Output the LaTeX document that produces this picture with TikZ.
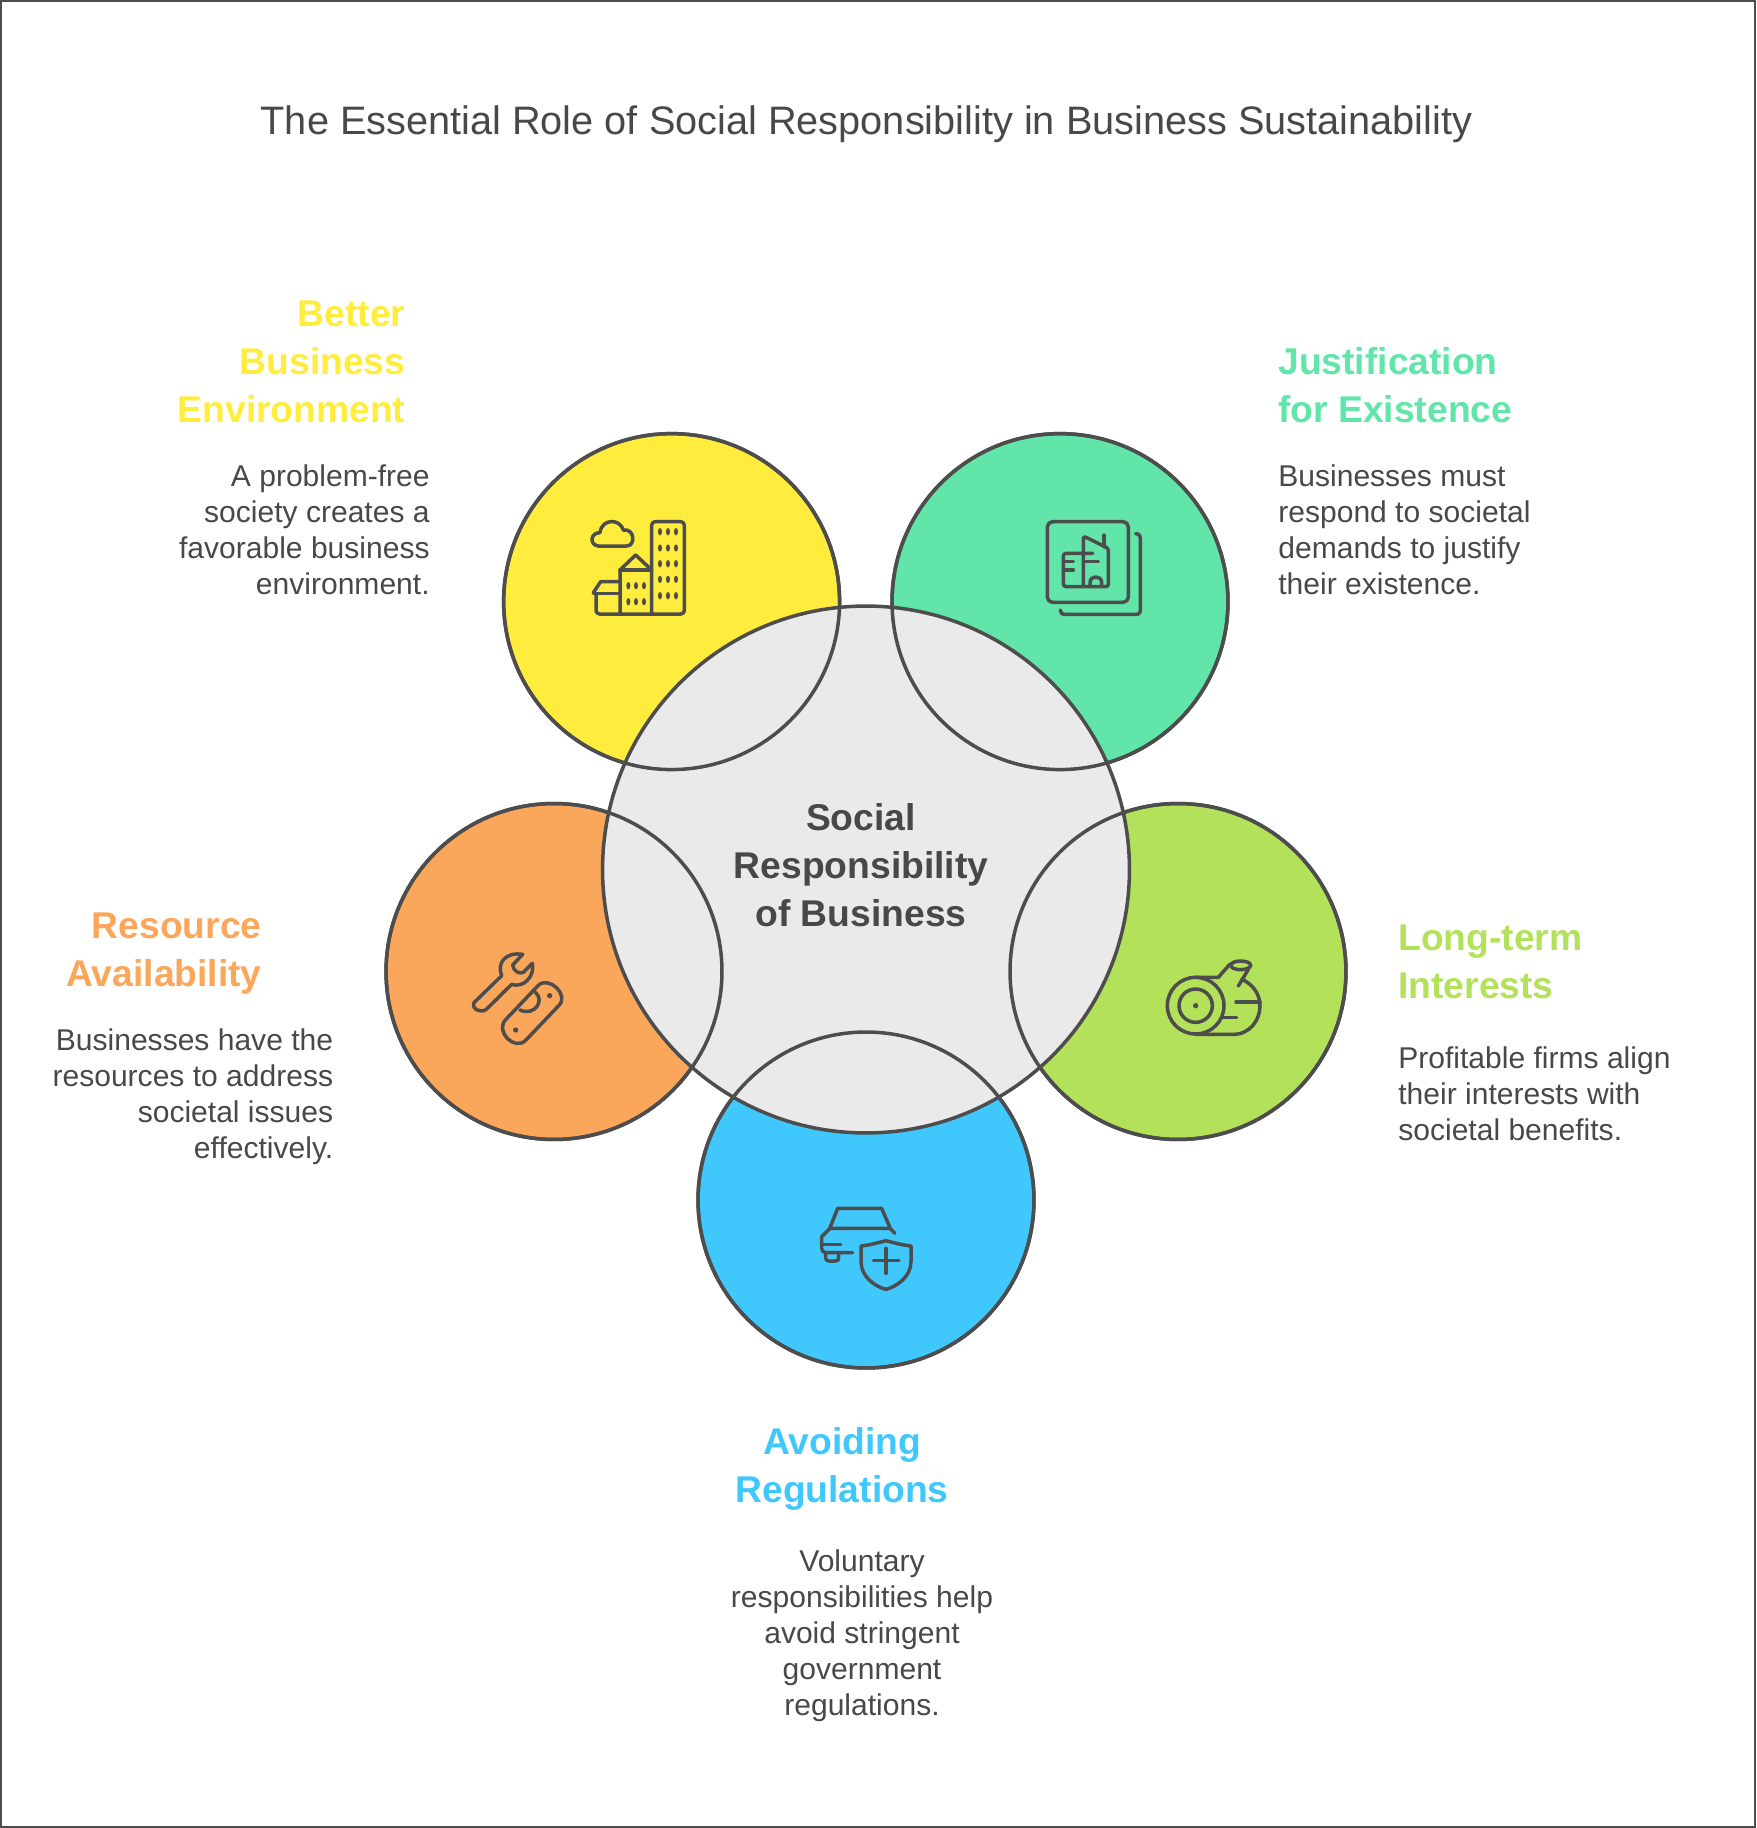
\documentclass[tikz,border=0pt]{standalone}
\usepackage{fontspec}
\setmainfont{Liberation Sans}
\usepackage{tikz}
\definecolor{inkgray}{HTML}{4D4D4D}
\definecolor{txtgray}{HTML}{484848}
\definecolor{coreGray}{HTML}{EAEAEA}
\definecolor{petalYellow}{HTML}{FFEC3D}
\definecolor{petalGreen}{HTML}{61E5A8}
\definecolor{petalOrange}{HTML}{FAA75B}
\definecolor{petalLime}{HTML}{B3E15A}
\definecolor{petalBlue}{HTML}{40C8FD}
\tikzset{
petal/.style={ % Coloured outer discs
circle,minimum size=6.72cm,inner sep=0pt,outer sep=0pt,draw=inkgray,line width=0.07cm},
ring/.style={petal,fill=none},
core/.style={petal,minimum size=10.54cm,fill=coreGray},
heading/.style={inner sep=0pt,font=\fontsize{21.2}{27.3}\selectfont\bfseries},
blurb/.style={inner sep=0pt,text=txtgray,font=\fontsize{17.1}{20.5}\selectfont},
iconline/.style={draw=inkgray,line width=0.07cm,line cap=round,line join=round},
iconspot/.style={fill=inkgray,draw=none}}

\begin{document}
\begin{tikzpicture}[x=0.02cm,y=-0.02cm]
\useasboundingbox (0,0) rectangle (1756,1828);
\draw[inkgray,line width=0.04cm] (1,1) rectangle (1755,1827);
\node[inner sep=0pt,text=txtgray,font=\fontsize{22.6}{26}\selectfont] (title) at (866.5,124) {The Essential Role of Social Responsibility in Business Sustainability};
% outer discs
\node[petal,fill=petalYellow] (better) at (671.6,601.6) {};
\node[petal,fill=petalGreen] (justify) at (1060,601.6) {};
\node[petal,fill=petalOrange] (resource) at (554,971.5) {};
\node[petal,fill=petalLime] (longterm) at (1178,971.5) {};
\node[petal,fill=petalBlue] (avoiding) at (866,1200) {};
\node[core] (social) at (866,869.5) {};
\foreach \name in {better,justify,resource,longterm,avoiding}
  \node[ring] (\name ring) at (\name) {};
\node[heading,text=txtgray,align=center] (sociallabel) at (861,865) {Social\\Responsibility\\of Business};
% headings and texts
\node[heading,text=petalYellow,align=right,anchor=east] (betterhead) at (405.7,361.5) {Better\\Business\\Environment};
\node[blurb,align=right,anchor=east] (bettertext) at (430,530) {A problem-free\\society creates a\\favorable business\\environment.};
\node[heading,text=petalGreen,align=left,anchor=west] (justifyhead) at (1278,385) {Justification\\for Existence};
\node[blurb,align=left,anchor=west] (justifytext) at (1278,530) {Businesses must\\respond to societal\\demands to justify\\their existence.};
\node[heading,text=petalOrange,align=right,anchor=east] (resourcehead) at (262,953.5) {Resource\\Availability};
\node[blurb,align=right,anchor=east] (resourcetext) at (333.5,1097) {Businesses have the\\resources to address\\societal issues\\effectively.};
\node[heading,text=petalLime,align=left,anchor=west] (longtermhead) at (1398,961.5) {Long-term\\Interests};
\node[blurb,align=left,anchor=west] (longtermtext) at (1398,1094) {Profitable firms align\\their interests with\\societal benefits.};
\node[heading,text=petalBlue,align=center] (avoidinghead) at (842,1468.5) {Avoiding\\Regulations};
\node[blurb,align=center] (avoidingtext) at (862,1635.5) {Voluntary\\responsibilities help\\avoid stringent\\government\\regulations.};
% city icon
\begin{scope}[shift={(570,500)},scale=1/3]
\draw[iconline,rounded corners=2pt] (245,342) -- (245,65) -- (343,65) -- (343,342) -- (78,342) -- (78,280);
\draw[iconline] (70,280) -- (150,280);
\draw[iconline] (70,278) -- (92,245) -- (150,245);
\draw[iconline] (150,342) -- (150,210) -- (197,165) -- (245,210);
\draw[iconline] (150,210) -- (245,210);
\draw[iconline] (85,138) .. controls (58,135) and (60,98) .. (90,98) .. controls (95,55) and (150,55) .. (160,90) .. controls (195,85) and (197,138) .. (170,138) -- cycle;
\foreach \px in {270,294,318} \foreach \py in {95,144,191,238,287}
  \fill[iconspot] (\px,\py) ellipse (6 and 11);
\foreach \px in {175,198,222} \foreach \py in {257,305}
  \fill[iconspot] (\px,\py) ellipse (6 and 11);
\end{scope}
% framed office icon
\begin{scope}[shift={(1030,500)},scale=1/3]
\draw[iconline,rounded corners=3pt] (52,65) rectangle (295,307);
\draw[iconline] (317,101) .. controls (328,101) and (331,108) .. (331,118) -- (331,328) .. controls (331,338) and (328,343) .. (318,343) -- (105,343) .. controls (95,343) and (91,338) .. (91,330);
\draw[iconline,rounded corners=1.5pt] (188,160) -- (100,160) -- (100,260) -- (235,260) -- (235,145) -- (160,108) -- (160,260);
\draw[iconline] (100,185) -- (130,185);
\draw[iconline] (100,210) -- (130,210);
\draw[iconline] (160,185) -- (205,185);
\draw[iconline] (222,105) -- (222,140);
\draw[iconline] (180,260) -- (180,248) .. controls (180,225) and (215,225) .. (215,248) -- (215,260);
\end{scope}
% log icon
\begin{scope}[shift={(1150,940)},scale=1/3]
\draw[iconline] (137,197) circle (85);
\draw[iconline] (137,197) circle (50);
\fill[iconspot] (137,197) circle (8);
\draw[iconline] (137,283) -- (250,283) .. controls (300,283) and (330,240) .. (330,197) .. controls (330,160) and (305,130) .. (275,118);
\draw[iconline] (137,112) -- (205,112) -- (240,72);
\draw[iconline] (272,76) ellipse (30 and 13);
\draw[iconline] (295,88) -- (265,138);
\draw[iconline] (258,186) -- (330,186);
\draw[iconline] (215,233) -- (260,233);
\end{scope}
% wrench icon
\begin{scope}[shift={(460,935)},scale=1/3]
\draw[iconline] (155,148) -- (80,222) .. controls (65,237) and (33,222) .. (42,203) -- (125,122) .. controls (110,85) and (135,50) .. (188,58) -- (158,90) .. controls (160,110) and (180,118) .. (190,112) -- (217,85) .. controls (225,125) and (190,160) .. (155,148) -- cycle;
\draw[iconline] (234,152) -- (136,255) .. controls (105,290) and (165,350) .. (198,315) -- (296,212) .. controls (330,180) and (265,120) .. (234,152) -- cycle;
\draw[iconline] (226,172) .. controls (255,195) and (225,245) .. (180,225);
\fill[iconspot] (269,182) circle (8);
\fill[iconspot] (167,285) circle (8);
\end{scope}
% car and shield icon
\begin{scope}[shift={(800,1190)},scale=1/3]
\draw[iconline] (90,113) -- (113,55) -- (245,55) -- (270,113);
\draw[iconline] (158,188) -- (78,188) .. controls (70,188) and (65,182) .. (65,175) -- (65,140) -- (90,115) -- (270,115) -- (285,130);
\draw[iconline] (65,163) -- (122,163);
\draw[iconline] (77,188) -- (77,203) .. controls (77,210) and (80,213) .. (87,213) -- (106,213) .. controls (113,213) and (116,210) .. (116,203) -- (116,188);
\draw[iconline] (183,168) .. controls (210,165) and (235,158) .. (258,152) .. controls (281,158) and (306,165) .. (333,168) -- (333,215) .. controls (333,260) and (290,290) .. (258,298) .. controls (225,290) and (183,260) .. (183,215) -- cycle;
\draw[iconline] (220,212) -- (297,212);
\draw[iconline] (258,175) -- (258,250);
\end{scope}
\end{tikzpicture}
\end{document}
